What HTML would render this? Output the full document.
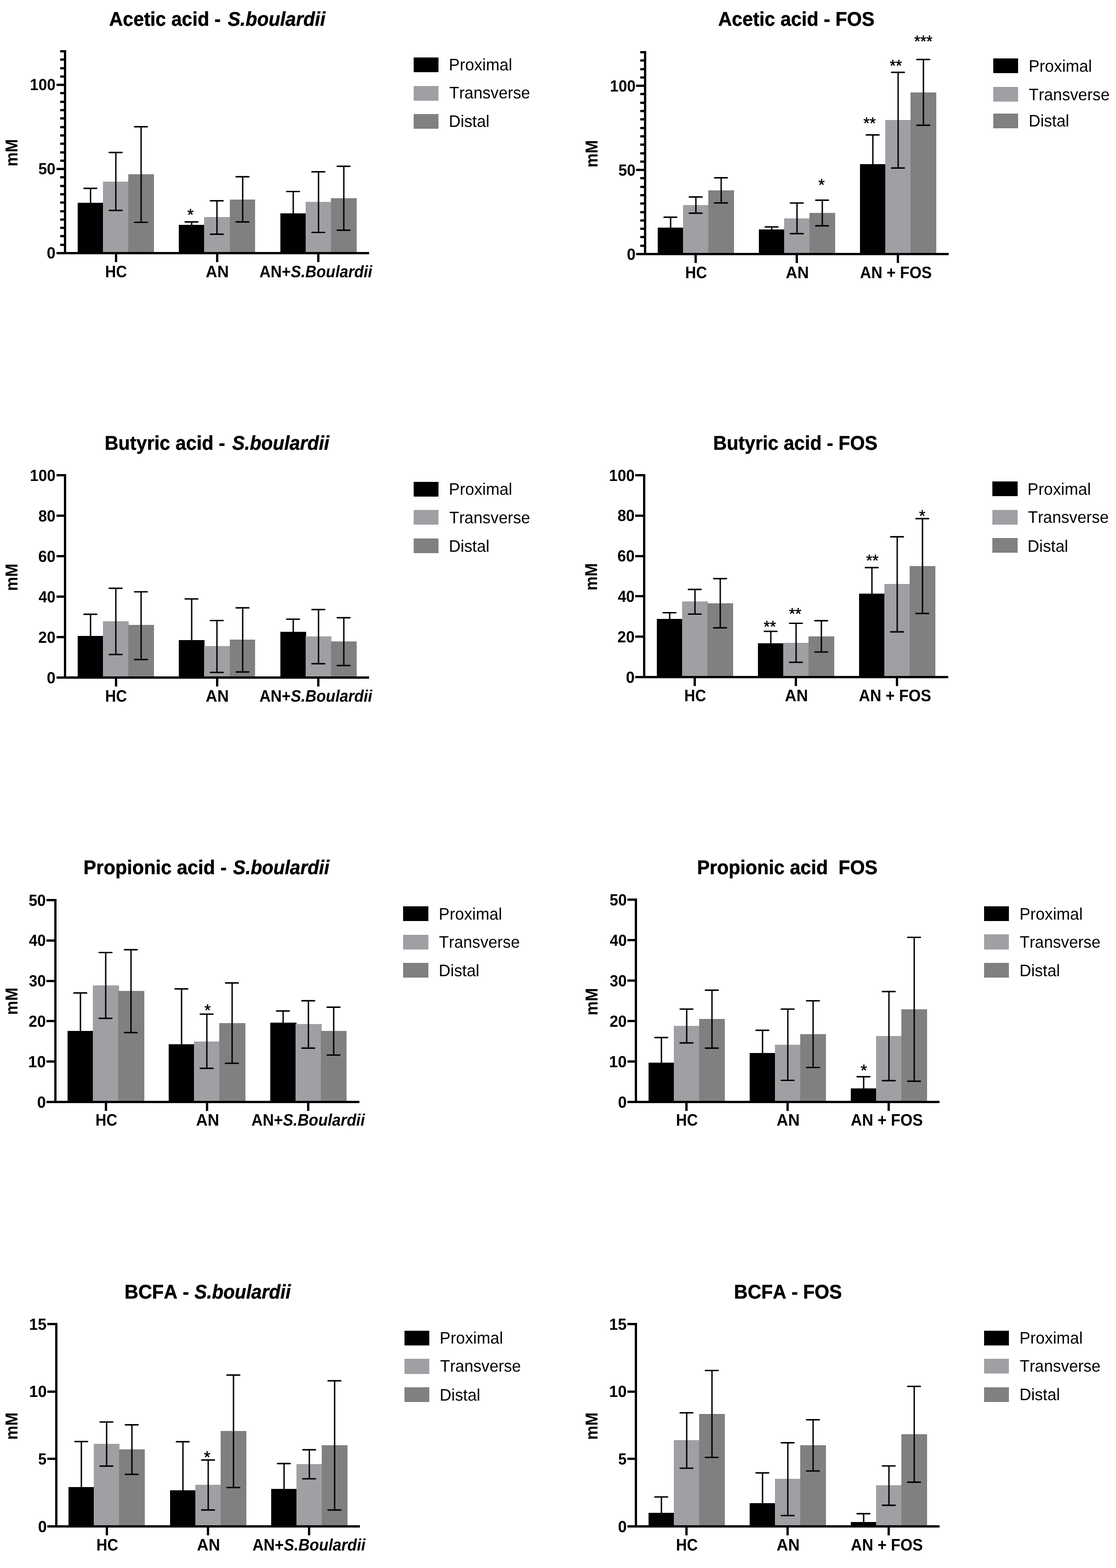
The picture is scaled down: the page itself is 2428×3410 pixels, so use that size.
<!DOCTYPE html>
<html lang="en">
<head>
<meta charset="utf-8">
<title>Short-chain fatty acids: S.boulardii and FOS</title>
<style>
html,body{margin:0;padding:0;background:#fff;}
body{width:2428px;height:3410px;}
svg{display:block;}
rect{shape-rendering:crispEdges;}
text{font-family:"Liberation Sans",Arial,Helvetica,sans-serif;fill:#000;white-space:pre;font-kerning:none;font-variant-ligatures:none;text-rendering:geometricPrecision;}
.b,.t{font-weight:bold;}
.t{stroke:#000;stroke-width:0.6px;stroke-linejoin:round;}
.s{stroke:#000;stroke-width:0.6px;stroke-linejoin:round;}
.i{font-style:italic;}
.e{stroke:#000;stroke-width:3;fill:none;}
.k{stroke:#000;stroke-width:3.2;stroke-linecap:round;fill:none;}
</style>
</head>
<body>
<svg width="2428" height="3410" viewBox="0 0 2428 3410" role="img" aria-label="Short-chain fatty acid bar charts">
<rect x="0" y="0" width="2428" height="3410" fill="#ffffff"/>
<g id="c1">
<rect x="169" y="441.1" width="55.6" height="107.9" fill="#000000"/>
<rect x="224" y="395" width="55.6" height="154" fill="#a0a0a4"/>
<rect x="279" y="379" width="56" height="170" fill="#808080"/>
<rect x="389" y="488.9" width="55.6" height="60.1" fill="#000000"/>
<rect x="444" y="472.1" width="56.6" height="76.9" fill="#a0a0a4"/>
<rect x="500" y="434" width="55" height="115" fill="#808080"/>
<rect x="610" y="464.1" width="55.6" height="84.9" fill="#000000"/>
<rect x="665" y="439.1" width="55.6" height="109.9" fill="#a0a0a4"/>
<rect x="720" y="430.9" width="56" height="118.1" fill="#808080"/>
<path d="M197 409.6V443.1" class="e"/>
<path d="M182.8 409.6H210.4" class="k"/>
<path d="M252 331.6V457.7" class="e"/>
<path d="M237.8 331.6H265.4" class="k"/>
<path d="M237.8 457.7H265.4" class="k"/>
<path d="M307 275.6V483.5" class="e"/>
<path d="M292.8 275.6H320.4" class="k"/>
<path d="M292.8 483.5H320.4" class="k"/>
<path d="M417 482.7V490.9" class="e"/>
<path d="M402.8 482.7H430.4" class="k"/>
<path d="M472 436.6V509.4" class="e"/>
<path d="M457.8 436.6H485.4" class="k"/>
<path d="M457.8 509.4H485.4" class="k"/>
<path d="M528 384.4V482.7" class="e"/>
<path d="M513.8 384.4H541.4" class="k"/>
<path d="M513.8 482.7H541.4" class="k"/>
<path d="M638 416.5V466.1" class="e"/>
<path d="M623.8 416.5H651.4" class="k"/>
<path d="M693 373.6V505.5" class="e"/>
<path d="M678.8 373.6H706.4" class="k"/>
<path d="M678.8 505.5H706.4" class="k"/>
<path d="M748 361.6V500.6" class="e"/>
<path d="M733.8 361.6H761.4" class="k"/>
<path d="M733.8 500.6H761.4" class="k"/>
<rect x="139" y="109" width="5" height="444"/>
<rect x="123" y="548" width="679.8" height="5"/>
<rect x="131" y="529.71" width="9" height="5"/>
<rect x="131" y="511.42" width="9" height="5"/>
<rect x="131" y="493.12" width="9" height="5"/>
<rect x="131" y="474.83" width="9" height="5"/>
<rect x="131" y="456.54" width="9" height="5"/>
<rect x="131" y="438.25" width="9" height="5"/>
<rect x="131" y="419.96" width="9" height="5"/>
<rect x="131" y="401.67" width="9" height="5"/>
<rect x="131" y="383.38" width="9" height="5"/>
<rect x="131" y="346.79" width="9" height="5"/>
<rect x="131" y="328.5" width="9" height="5"/>
<rect x="131" y="310.21" width="9" height="5"/>
<rect x="131" y="291.92" width="9" height="5"/>
<rect x="131" y="273.62" width="9" height="5"/>
<rect x="131" y="255.33" width="9" height="5"/>
<rect x="131" y="237.04" width="9" height="5"/>
<rect x="131" y="218.75" width="9" height="5"/>
<rect x="131" y="200.46" width="9" height="5"/>
<rect x="131" y="163.88" width="9" height="5"/>
<rect x="131" y="145.58" width="9" height="5"/>
<rect x="131" y="127.29" width="9" height="5"/>
<rect x="131" y="109" width="9" height="5"/>
<text class="b" style="font-size:35.2px" transform="translate(101.74 562) scale(0.9737 1)" xml:space="preserve">0</text>
<rect x="123" y="365.08" width="17" height="5"/>
<text class="b" style="font-size:35.2px" transform="translate(83.47 379.08) scale(0.9529 1)" xml:space="preserve">50</text>
<rect x="123" y="182.17" width="17" height="5"/>
<text class="b" style="font-size:35.2px" transform="translate(65.1 196.17) scale(0.9479 1)" xml:space="preserve">100</text>
<rect x="250" y="552" width="5" height="18"/>
<rect x="470" y="552" width="5" height="18"/>
<rect x="689.8" y="552" width="5" height="18"/>
<text class="b" style="font-size:36.3px" transform="translate(228.81 602.8) scale(0.9019 1)" xml:space="preserve">HC</text>
<text class="b" style="font-size:36.3px" transform="translate(447.53 602.8) scale(0.9576 1)" xml:space="preserve">AN</text>
<text class="b" style="font-size:36.3px" transform="translate(564.46 602.8) scale(0.9255 1)" xml:space="preserve">AN+<tspan class="i">S.Boulardii</tspan></text>
<text class="b" style="font-size:37.6px" transform="translate(38.1 361.98) rotate(-90) scale(0.9204 1)" xml:space="preserve">mM</text>
<text class="t" style="font-size:43px" transform="translate(237.57 55.9) scale(0.9580 1)" xml:space="preserve">Acetic acid -</text>
<text class="t i" style="font-size:43px" transform="translate(495.4 55.9) scale(0.9564 1)" xml:space="preserve">S.boulardii</text>
<rect x="900.1" y="124.9" width="54.2" height="32.2" fill="#000000"/>
<text class="r" style="font-size:36.3px" transform="translate(976.6 153.4) scale(0.9750 1)" xml:space="preserve">Proximal</text>
<rect x="900.1" y="186.9" width="54.2" height="32.2" fill="#a0a0a4"/>
<text class="r" style="font-size:36.3px" transform="translate(977.41 214.4) scale(0.9692 1)" xml:space="preserve">Transverse</text>
<rect x="900.1" y="248" width="54.2" height="32.2" fill="#808080"/>
<text class="r" style="font-size:36.3px" transform="translate(976.6 276.1) scale(0.9723 1)" xml:space="preserve">Distal</text>
<text class="r s" style="font-size:35.5px" transform="translate(407.58 478.8) scale(1.0009 1)" xml:space="preserve">*</text>
</g>
<g id="c2">
<rect x="1431" y="495" width="55.6" height="56" fill="#000000"/>
<rect x="1486" y="446.1" width="55.6" height="104.9" fill="#a0a0a4"/>
<rect x="1541" y="414" width="55.5" height="137" fill="#808080"/>
<rect x="1651" y="499.1" width="55.6" height="51.9" fill="#000000"/>
<rect x="1706" y="475" width="55.6" height="76" fill="#a0a0a4"/>
<rect x="1761" y="463.1" width="56" height="87.9" fill="#808080"/>
<rect x="1871" y="357.1" width="55.6" height="193.9" fill="#000000"/>
<rect x="1926" y="261" width="55.6" height="290" fill="#a0a0a4"/>
<rect x="1981" y="200.9" width="56" height="350.1" fill="#808080"/>
<path d="M1459 472.4V497" class="e"/>
<path d="M1444.8 472.4H1472.4" class="k"/>
<path d="M1514 428.4V463.6" class="e"/>
<path d="M1499.8 428.4H1527.4" class="k"/>
<path d="M1499.8 463.6H1527.4" class="k"/>
<path d="M1569 386.6V441.4" class="e"/>
<path d="M1554.8 386.6H1582.4" class="k"/>
<path d="M1554.8 441.4H1582.4" class="k"/>
<path d="M1679 493.5V501.1" class="e"/>
<path d="M1664.8 493.5H1692.4" class="k"/>
<path d="M1734 441.5V508.2" class="e"/>
<path d="M1719.8 441.5H1747.4" class="k"/>
<path d="M1719.8 508.2H1747.4" class="k"/>
<path d="M1789 435.3V491.2" class="e"/>
<path d="M1774.8 435.3H1802.4" class="k"/>
<path d="M1774.8 491.2H1802.4" class="k"/>
<path d="M1899 293.3V359.1" class="e"/>
<path d="M1884.8 293.3H1912.4" class="k"/>
<path d="M1954 157.3V365.3" class="e"/>
<path d="M1939.8 157.3H1967.4" class="k"/>
<path d="M1939.8 365.3H1967.4" class="k"/>
<path d="M2009 129.3V272.4" class="e"/>
<path d="M1994.8 129.3H2022.4" class="k"/>
<path d="M1994.8 272.4H2022.4" class="k"/>
<rect x="1401" y="111" width="5" height="444"/>
<rect x="1384" y="550" width="680" height="5"/>
<rect x="1393" y="531.71" width="9" height="5"/>
<rect x="1393" y="513.42" width="9" height="5"/>
<rect x="1393" y="495.12" width="9" height="5"/>
<rect x="1393" y="476.83" width="9" height="5"/>
<rect x="1393" y="458.54" width="9" height="5"/>
<rect x="1393" y="440.25" width="9" height="5"/>
<rect x="1393" y="421.96" width="9" height="5"/>
<rect x="1393" y="403.67" width="9" height="5"/>
<rect x="1393" y="385.38" width="9" height="5"/>
<rect x="1393" y="348.79" width="9" height="5"/>
<rect x="1393" y="330.5" width="9" height="5"/>
<rect x="1393" y="312.21" width="9" height="5"/>
<rect x="1393" y="293.92" width="9" height="5"/>
<rect x="1393" y="275.62" width="9" height="5"/>
<rect x="1393" y="257.33" width="9" height="5"/>
<rect x="1393" y="239.04" width="9" height="5"/>
<rect x="1393" y="220.75" width="9" height="5"/>
<rect x="1393" y="202.46" width="9" height="5"/>
<rect x="1393" y="165.88" width="9" height="5"/>
<rect x="1393" y="147.58" width="9" height="5"/>
<rect x="1393" y="129.29" width="9" height="5"/>
<rect x="1393" y="111" width="9" height="5"/>
<text class="b" style="font-size:35.2px" transform="translate(1363.74 564.6) scale(0.9737 1)" xml:space="preserve">0</text>
<rect x="1384" y="367.08" width="18" height="5"/>
<text class="b" style="font-size:35.2px" transform="translate(1345.47 381.68) scale(0.9529 1)" xml:space="preserve">50</text>
<rect x="1384" y="184.17" width="18" height="5"/>
<text class="b" style="font-size:35.2px" transform="translate(1327.1 198.77) scale(0.9479 1)" xml:space="preserve">100</text>
<rect x="1511.1" y="554" width="5" height="18"/>
<rect x="1731.1" y="554" width="5" height="18"/>
<rect x="1951.3" y="554" width="5" height="18"/>
<text class="b" style="font-size:36.3px" transform="translate(1490.81 604.8) scale(0.9019 1)" xml:space="preserve">HC</text>
<text class="b" style="font-size:36.3px" transform="translate(1709.53 604.8) scale(0.9576 1)" xml:space="preserve">AN</text>
<text class="b" style="font-size:36.3px" transform="translate(1871.06 604.8) scale(0.9278 1)" xml:space="preserve">AN + FOS</text>
<text class="b" style="font-size:37.6px" transform="translate(1300.1 364.28) rotate(-90) scale(0.9204 1)" xml:space="preserve">mM</text>
<text class="t" style="font-size:43px" transform="translate(1562.47 55.8) scale(0.9615 1)" xml:space="preserve">Acetic acid - FOS</text>
<rect x="2161" y="127.1" width="54.2" height="32.2" fill="#000000"/>
<text class="r" style="font-size:36.3px" transform="translate(2237.9 155.9) scale(0.9750 1)" xml:space="preserve">Proximal</text>
<rect x="2161" y="189" width="54.2" height="32.2" fill="#a0a0a4"/>
<text class="r" style="font-size:36.3px" transform="translate(2238.31 218) scale(0.9692 1)" xml:space="preserve">Transverse</text>
<rect x="2161" y="247" width="54.2" height="32.2" fill="#808080"/>
<text class="r" style="font-size:36.3px" transform="translate(2237.9 274.9) scale(0.9723 1)" xml:space="preserve">Distal</text>
<text class="r s" style="font-size:35.5px" transform="translate(1780.58 414) scale(1.0009 1)" xml:space="preserve">*</text>
<text class="r s" style="font-size:35.5px" transform="translate(1878.55 280.4) scale(0.9659 1)" xml:space="preserve">**</text>
<text class="r s" style="font-size:35.5px" transform="translate(1935.65 155.4) scale(0.9659 1)" xml:space="preserve">**</text>
<text class="r s" style="font-size:35.5px" transform="translate(1988.95 101.5) scale(0.9623 1)" xml:space="preserve">***</text>
</g>
<g id="c3">
<rect x="169" y="1382.9" width="55.6" height="89.1" fill="#000000"/>
<rect x="224" y="1351.2" width="55.6" height="120.8" fill="#a0a0a4"/>
<rect x="279" y="1359" width="56" height="113" fill="#808080"/>
<rect x="389" y="1392.2" width="55.6" height="79.8" fill="#000000"/>
<rect x="444" y="1405.1" width="56.6" height="66.9" fill="#a0a0a4"/>
<rect x="500" y="1391.1" width="55" height="80.9" fill="#808080"/>
<rect x="610" y="1374.1" width="55.6" height="97.9" fill="#000000"/>
<rect x="665" y="1384.2" width="55.6" height="87.8" fill="#a0a0a4"/>
<rect x="720" y="1395" width="56" height="77" fill="#808080"/>
<path d="M197 1335.9V1384.9" class="e"/>
<path d="M182.8 1335.9H210.4" class="k"/>
<path d="M252 1279.4V1423.4" class="e"/>
<path d="M237.8 1279.4H265.4" class="k"/>
<path d="M237.8 1423.4H265.4" class="k"/>
<path d="M307 1287V1434.4" class="e"/>
<path d="M292.8 1287H320.4" class="k"/>
<path d="M292.8 1434.4H320.4" class="k"/>
<path d="M417 1302.5V1394.2" class="e"/>
<path d="M402.8 1302.5H430.4" class="k"/>
<path d="M472 1349.5V1462.4" class="e"/>
<path d="M457.8 1349.5H485.4" class="k"/>
<path d="M457.8 1462.4H485.4" class="k"/>
<path d="M528 1321.9V1461.3" class="e"/>
<path d="M513.8 1321.9H541.4" class="k"/>
<path d="M513.8 1461.3H541.4" class="k"/>
<path d="M638 1346.5V1376.1" class="e"/>
<path d="M623.8 1346.5H651.4" class="k"/>
<path d="M693 1325.6V1443.4" class="e"/>
<path d="M678.8 1325.6H706.4" class="k"/>
<path d="M678.8 1443.4H706.4" class="k"/>
<path d="M748 1343.4V1447.3" class="e"/>
<path d="M733.8 1343.4H761.4" class="k"/>
<path d="M733.8 1447.3H761.4" class="k"/>
<rect x="139" y="1031" width="5" height="445"/>
<rect x="123" y="1471" width="679.8" height="5"/>
<text class="b" style="font-size:35.2px" transform="translate(101.74 1485.6) scale(0.9737 1)" xml:space="preserve">0</text>
<rect x="123" y="1383" width="17" height="5"/>
<text class="b" style="font-size:35.2px" transform="translate(83.33 1397.6) scale(0.9565 1)" xml:space="preserve">20</text>
<rect x="123" y="1295" width="17" height="5"/>
<text class="b" style="font-size:35.2px" transform="translate(84 1309.6) scale(0.9388 1)" xml:space="preserve">40</text>
<rect x="123" y="1207" width="17" height="5"/>
<text class="b" style="font-size:35.2px" transform="translate(83.26 1221.6) scale(0.9583 1)" xml:space="preserve">60</text>
<rect x="123" y="1119" width="17" height="5"/>
<text class="b" style="font-size:35.2px" transform="translate(83.43 1133.6) scale(0.9538 1)" xml:space="preserve">80</text>
<rect x="123" y="1031" width="17" height="5"/>
<text class="b" style="font-size:35.2px" transform="translate(65.1 1045.6) scale(0.9479 1)" xml:space="preserve">100</text>
<rect x="250" y="1475" width="5" height="18"/>
<rect x="470" y="1475" width="5" height="18"/>
<rect x="689.8" y="1475" width="5" height="18"/>
<text class="b" style="font-size:36.3px" transform="translate(228.81 1525.8) scale(0.9019 1)" xml:space="preserve">HC</text>
<text class="b" style="font-size:36.3px" transform="translate(447.53 1525.8) scale(0.9576 1)" xml:space="preserve">AN</text>
<text class="b" style="font-size:36.3px" transform="translate(564.46 1525.8) scale(0.9255 1)" xml:space="preserve">AN+<tspan class="i">S.Boulardii</tspan></text>
<text class="b" style="font-size:37.6px" transform="translate(38.1 1285.28) rotate(-90) scale(0.9204 1)" xml:space="preserve">mM</text>
<text class="t" style="font-size:43px" transform="translate(227.73 978) scale(0.9619 1)" xml:space="preserve">Butyric acid -</text>
<text class="t i" style="font-size:43px" transform="translate(504.9 978) scale(0.9519 1)" xml:space="preserve">S.boulardii</text>
<rect x="900.1" y="1048.1" width="54.2" height="32.2" fill="#000000"/>
<text class="r" style="font-size:36.3px" transform="translate(976.6 1076.2) scale(0.9750 1)" xml:space="preserve">Proximal</text>
<rect x="900.1" y="1109.2" width="54.2" height="32.2" fill="#a0a0a4"/>
<text class="r" style="font-size:36.3px" transform="translate(977.41 1137.7) scale(0.9692 1)" xml:space="preserve">Transverse</text>
<rect x="900.1" y="1171.2" width="54.2" height="32.2" fill="#808080"/>
<text class="r" style="font-size:36.3px" transform="translate(976.6 1199.8) scale(0.9723 1)" xml:space="preserve">Distal</text>
</g>
<g id="c4">
<rect x="1429" y="1346" width="55.6" height="125" fill="#000000"/>
<rect x="1484" y="1308.1" width="55.6" height="162.9" fill="#a0a0a4"/>
<rect x="1539" y="1312" width="56" height="159" fill="#808080"/>
<rect x="1649" y="1399.1" width="55.6" height="71.9" fill="#000000"/>
<rect x="1704" y="1398" width="55.6" height="73" fill="#a0a0a4"/>
<rect x="1759" y="1384" width="56" height="87" fill="#808080"/>
<rect x="1869" y="1291.1" width="55.6" height="179.9" fill="#000000"/>
<rect x="1924" y="1270.2" width="55.6" height="200.8" fill="#a0a0a4"/>
<rect x="1979" y="1231.2" width="56" height="239.8" fill="#808080"/>
<path d="M1457 1332.5V1348" class="e"/>
<path d="M1442.8 1332.5H1470.4" class="k"/>
<path d="M1512 1281.8V1335.5" class="e"/>
<path d="M1497.8 1281.8H1525.4" class="k"/>
<path d="M1497.8 1335.5H1525.4" class="k"/>
<path d="M1567 1258.3V1365.4" class="e"/>
<path d="M1552.8 1258.3H1580.4" class="k"/>
<path d="M1552.8 1365.4H1580.4" class="k"/>
<path d="M1677 1373V1401.1" class="e"/>
<path d="M1662.8 1373H1690.4" class="k"/>
<path d="M1732 1355.5V1440.4" class="e"/>
<path d="M1717.8 1355.5H1745.4" class="k"/>
<path d="M1717.8 1440.4H1745.4" class="k"/>
<path d="M1787 1349.9V1418" class="e"/>
<path d="M1772.8 1349.9H1800.4" class="k"/>
<path d="M1772.8 1418H1800.4" class="k"/>
<path d="M1897 1234.4V1293.1" class="e"/>
<path d="M1882.8 1234.4H1910.4" class="k"/>
<path d="M1952 1167.4V1374.1" class="e"/>
<path d="M1937.8 1167.4H1965.4" class="k"/>
<path d="M1937.8 1374.1H1965.4" class="k"/>
<path d="M2007 1127.9V1334.2" class="e"/>
<path d="M1992.8 1127.9H2020.4" class="k"/>
<path d="M1992.8 1334.2H2020.4" class="k"/>
<rect x="1399" y="1031" width="5" height="444"/>
<rect x="1382" y="1470" width="680.8" height="5"/>
<text class="b" style="font-size:35.2px" transform="translate(1361.74 1484.6) scale(0.9737 1)" xml:space="preserve">0</text>
<rect x="1382" y="1382.2" width="18" height="5"/>
<text class="b" style="font-size:35.2px" transform="translate(1343.33 1396.8) scale(0.9565 1)" xml:space="preserve">20</text>
<rect x="1382" y="1294.4" width="18" height="5"/>
<text class="b" style="font-size:35.2px" transform="translate(1344 1309) scale(0.9388 1)" xml:space="preserve">40</text>
<rect x="1382" y="1206.6" width="18" height="5"/>
<text class="b" style="font-size:35.2px" transform="translate(1343.26 1221.2) scale(0.9583 1)" xml:space="preserve">60</text>
<rect x="1382" y="1118.8" width="18" height="5"/>
<text class="b" style="font-size:35.2px" transform="translate(1343.43 1133.4) scale(0.9538 1)" xml:space="preserve">80</text>
<rect x="1382" y="1031" width="18" height="5"/>
<text class="b" style="font-size:35.2px" transform="translate(1325.1 1045.6) scale(0.9479 1)" xml:space="preserve">100</text>
<rect x="1509.1" y="1474" width="5" height="18"/>
<rect x="1729.1" y="1474" width="5" height="18"/>
<rect x="1949.3" y="1474" width="5" height="18"/>
<text class="b" style="font-size:36.3px" transform="translate(1488.81 1524.8) scale(0.9019 1)" xml:space="preserve">HC</text>
<text class="b" style="font-size:36.3px" transform="translate(1707.53 1524.8) scale(0.9576 1)" xml:space="preserve">AN</text>
<text class="b" style="font-size:36.3px" transform="translate(1868.46 1524.8) scale(0.9344 1)" xml:space="preserve">AN + FOS</text>
<text class="b" style="font-size:37.6px" transform="translate(1299.3 1284.28) rotate(-90) scale(0.9204 1)" xml:space="preserve">mM</text>
<text class="t" style="font-size:43px" transform="translate(1551.54 978) scale(0.9593 1)" xml:space="preserve">Butyric acid - FOS</text>
<rect x="2159.3" y="1047.1" width="54.2" height="32.2" fill="#000000"/>
<text class="r" style="font-size:36.3px" transform="translate(2235.6 1075.9) scale(0.9750 1)" xml:space="preserve">Proximal</text>
<rect x="2159.3" y="1108.9" width="54.2" height="32.2" fill="#a0a0a4"/>
<text class="r" style="font-size:36.3px" transform="translate(2236.41 1137) scale(0.9692 1)" xml:space="preserve">Transverse</text>
<rect x="2159.3" y="1170" width="54.2" height="32.2" fill="#808080"/>
<text class="r" style="font-size:36.3px" transform="translate(2235.6 1199.6) scale(0.9723 1)" xml:space="preserve">Distal</text>
<text class="r s" style="font-size:35.5px" transform="translate(1661.55 1375.3) scale(0.9659 1)" xml:space="preserve">**</text>
<text class="r s" style="font-size:35.5px" transform="translate(1716.65 1346.9) scale(0.9659 1)" xml:space="preserve">**</text>
<text class="r s" style="font-size:35.5px" transform="translate(1884.55 1231.4) scale(0.9659 1)" xml:space="preserve">**</text>
<text class="r s" style="font-size:35.5px" transform="translate(1999.48 1134.4) scale(1.0009 1)" xml:space="preserve">*</text>
</g>
<g id="c5">
<rect x="147" y="2242.2" width="56.9" height="152.8" fill="#000000"/>
<rect x="202" y="2143.2" width="56.9" height="251.8" fill="#a0a0a4"/>
<rect x="257" y="2155.1" width="57" height="239.9" fill="#808080"/>
<rect x="367" y="2271" width="56.9" height="124" fill="#000000"/>
<rect x="422" y="2265" width="56.9" height="130" fill="#a0a0a4"/>
<rect x="477" y="2224.9" width="57" height="170.1" fill="#808080"/>
<rect x="588" y="2224.3" width="56.9" height="170.7" fill="#000000"/>
<rect x="643" y="2227.1" width="56.9" height="167.9" fill="#a0a0a4"/>
<rect x="698" y="2242.2" width="56" height="152.8" fill="#808080"/>
<path d="M175 2159.4V2244.2" class="e"/>
<path d="M160.8 2159.4H188.4" class="k"/>
<path d="M230 2071.5V2214.6" class="e"/>
<path d="M215.8 2071.5H243.4" class="k"/>
<path d="M215.8 2214.6H243.4" class="k"/>
<path d="M285 2065.4V2245.6" class="e"/>
<path d="M270.8 2065.4H298.4" class="k"/>
<path d="M270.8 2245.6H298.4" class="k"/>
<path d="M395 2150.6V2273" class="e"/>
<path d="M380.8 2150.6H408.4" class="k"/>
<path d="M450 2205.5V2323.4" class="e"/>
<path d="M435.8 2205.5H463.4" class="k"/>
<path d="M435.8 2323.4H463.4" class="k"/>
<path d="M505 2137.6V2312.4" class="e"/>
<path d="M490.8 2137.6H518.4" class="k"/>
<path d="M490.8 2312.4H518.4" class="k"/>
<path d="M616 2198.6V2226.3" class="e"/>
<path d="M601.8 2198.6H629.4" class="k"/>
<path d="M671 2176.4V2279.4" class="e"/>
<path d="M656.8 2176.4H684.4" class="k"/>
<path d="M656.8 2279.4H684.4" class="k"/>
<path d="M726 2190.4V2294.5" class="e"/>
<path d="M711.8 2190.4H739.4" class="k"/>
<path d="M711.8 2294.5H739.4" class="k"/>
<rect x="118" y="1955" width="5" height="444"/>
<rect x="101" y="2394" width="681" height="5"/>
<text class="b" style="font-size:35.2px" transform="translate(80.74 2408.6) scale(0.9737 1)" xml:space="preserve">0</text>
<rect x="101" y="2306.2" width="18" height="5"/>
<text class="b" style="font-size:35.2px" transform="translate(61.32 2320.8) scale(0.9833 1)" xml:space="preserve">10</text>
<rect x="101" y="2218.4" width="18" height="5"/>
<text class="b" style="font-size:35.2px" transform="translate(62.33 2233) scale(0.9565 1)" xml:space="preserve">20</text>
<rect x="101" y="2130.6" width="18" height="5"/>
<text class="b" style="font-size:35.2px" transform="translate(62.74 2145.2) scale(0.9458 1)" xml:space="preserve">30</text>
<rect x="101" y="2042.8" width="18" height="5"/>
<text class="b" style="font-size:35.2px" transform="translate(63 2057.4) scale(0.9388 1)" xml:space="preserve">40</text>
<rect x="101" y="1955" width="18" height="5"/>
<text class="b" style="font-size:35.2px" transform="translate(62.47 1969.6) scale(0.9529 1)" xml:space="preserve">50</text>
<rect x="228" y="2398" width="5" height="18"/>
<rect x="448.2" y="2398" width="5" height="18"/>
<rect x="667.7" y="2398" width="5" height="18"/>
<text class="b" style="font-size:36.3px" transform="translate(207.81 2447.8) scale(0.9019 1)" xml:space="preserve">HC</text>
<text class="b" style="font-size:36.3px" transform="translate(426.53 2447.8) scale(0.9576 1)" xml:space="preserve">AN</text>
<text class="b" style="font-size:36.3px" transform="translate(547.06 2447.8) scale(0.9304 1)" xml:space="preserve">AN+<tspan class="i">S.Boulardii</tspan></text>
<text class="b" style="font-size:37.6px" transform="translate(38.1 2207.28) rotate(-90) scale(0.9204 1)" xml:space="preserve">mM</text>
<text class="t" style="font-size:43px" transform="translate(181.62 1900.6) scale(0.9665 1)" xml:space="preserve">Propionic acid -</text>
<text class="t i" style="font-size:43px" transform="translate(507.11 1900.6) scale(0.9420 1)" xml:space="preserve">S.boulardii</text>
<rect x="877.4" y="1971" width="54.2" height="32.2" fill="#000000"/>
<text class="r" style="font-size:36.3px" transform="translate(954.6 1999.6) scale(0.9750 1)" xml:space="preserve">Proximal</text>
<rect x="877.4" y="2033.1" width="54.2" height="32.2" fill="#a0a0a4"/>
<text class="r" style="font-size:36.3px" transform="translate(955.01 2060.7) scale(0.9692 1)" xml:space="preserve">Transverse</text>
<rect x="877.4" y="2094.2" width="54.2" height="32.2" fill="#808080"/>
<text class="r" style="font-size:36.3px" transform="translate(954.6 2123) scale(0.9723 1)" xml:space="preserve">Distal</text>
<text class="r s" style="font-size:35.5px" transform="translate(444.68 2209.2) scale(1.0009 1)" xml:space="preserve">*</text>
</g>
<g id="c6">
<rect x="1411" y="2311.1" width="55.6" height="83.9" fill="#000000"/>
<rect x="1466" y="2231" width="55.6" height="164" fill="#a0a0a4"/>
<rect x="1521" y="2216.1" width="55.5" height="178.9" fill="#808080"/>
<rect x="1631" y="2290.2" width="55.6" height="104.8" fill="#000000"/>
<rect x="1686" y="2272.1" width="55.6" height="122.9" fill="#a0a0a4"/>
<rect x="1741" y="2249.1" width="56" height="145.9" fill="#808080"/>
<rect x="1851" y="2367.2" width="55.6" height="27.8" fill="#000000"/>
<rect x="1906" y="2253" width="55.6" height="142" fill="#a0a0a4"/>
<rect x="1961" y="2195" width="56" height="200" fill="#808080"/>
<path d="M1439 2256.4V2313.1" class="e"/>
<path d="M1424.8 2256.4H1452.4" class="k"/>
<path d="M1494 2194.5V2268.2" class="e"/>
<path d="M1479.8 2194.5H1507.4" class="k"/>
<path d="M1479.8 2268.2H1507.4" class="k"/>
<path d="M1549 2153.4V2279.4" class="e"/>
<path d="M1534.8 2153.4H1562.4" class="k"/>
<path d="M1534.8 2279.4H1562.4" class="k"/>
<path d="M1659 2240.6V2292.2" class="e"/>
<path d="M1644.8 2240.6H1672.4" class="k"/>
<path d="M1714 2194.5V2349.5" class="e"/>
<path d="M1699.8 2194.5H1727.4" class="k"/>
<path d="M1699.8 2349.5H1727.4" class="k"/>
<path d="M1769 2176.5V2321.5" class="e"/>
<path d="M1754.8 2176.5H1782.4" class="k"/>
<path d="M1754.8 2321.5H1782.4" class="k"/>
<path d="M1879 2341.6V2369.2" class="e"/>
<path d="M1864.8 2341.6H1892.4" class="k"/>
<path d="M1934 2156.4V2350.2" class="e"/>
<path d="M1919.8 2156.4H1947.4" class="k"/>
<path d="M1919.8 2350.2H1947.4" class="k"/>
<path d="M1989 2038.5V2351.3" class="e"/>
<path d="M1974.8 2038.5H2002.4" class="k"/>
<path d="M1974.8 2351.3H2002.4" class="k"/>
<rect x="1381" y="1954" width="5" height="445"/>
<rect x="1365" y="2394" width="679" height="5"/>
<text class="b" style="font-size:35.2px" transform="translate(1344.54 2408.6) scale(0.9737 1)" xml:space="preserve">0</text>
<rect x="1365" y="2306" width="17" height="5"/>
<text class="b" style="font-size:35.2px" transform="translate(1325.12 2320.6) scale(0.9833 1)" xml:space="preserve">10</text>
<rect x="1365" y="2218" width="17" height="5"/>
<text class="b" style="font-size:35.2px" transform="translate(1326.13 2232.6) scale(0.9565 1)" xml:space="preserve">20</text>
<rect x="1365" y="2130" width="17" height="5"/>
<text class="b" style="font-size:35.2px" transform="translate(1326.54 2144.6) scale(0.9458 1)" xml:space="preserve">30</text>
<rect x="1365" y="2042" width="17" height="5"/>
<text class="b" style="font-size:35.2px" transform="translate(1326.8 2056.6) scale(0.9388 1)" xml:space="preserve">40</text>
<rect x="1365" y="1954" width="17" height="5"/>
<text class="b" style="font-size:35.2px" transform="translate(1326.27 1968.6) scale(0.9529 1)" xml:space="preserve">50</text>
<rect x="1491.1" y="2398" width="5" height="18"/>
<rect x="1711.1" y="2398" width="5" height="18"/>
<rect x="1931.3" y="2398" width="5" height="18"/>
<text class="b" style="font-size:36.3px" transform="translate(1470.81 2447.8) scale(0.9019 1)" xml:space="preserve">HC</text>
<text class="b" style="font-size:36.3px" transform="translate(1689.53 2447.8) scale(0.9576 1)" xml:space="preserve">AN</text>
<text class="b" style="font-size:36.3px" transform="translate(1851.06 2447.8) scale(0.9308 1)" xml:space="preserve">AN + FOS</text>
<text class="b" style="font-size:37.6px" transform="translate(1300 2208.18) rotate(-90) scale(0.9204 1)" xml:space="preserve">mM</text>
<text class="t" style="font-size:43px" transform="translate(1516.44 1900.6) scale(0.9611 1)" xml:space="preserve">Propionic acid  FOS</text>
<rect x="2141" y="1971.1" width="54.2" height="32.2" fill="#000000"/>
<text class="r" style="font-size:36.3px" transform="translate(2217.9 2000) scale(0.9750 1)" xml:space="preserve">Proximal</text>
<rect x="2141" y="2032.4" width="54.2" height="32.2" fill="#a0a0a4"/>
<text class="r" style="font-size:36.3px" transform="translate(2218.41 2061.2) scale(0.9692 1)" xml:space="preserve">Transverse</text>
<rect x="2141" y="2093.9" width="54.2" height="32.2" fill="#808080"/>
<text class="r" style="font-size:36.3px" transform="translate(2217.9 2122.8) scale(0.9723 1)" xml:space="preserve">Distal</text>
<text class="r s" style="font-size:35.5px" transform="translate(1872.48 2340.2) scale(1.0009 1)" xml:space="preserve">*</text>
</g>
<g id="c7">
<rect x="149" y="3234.1" width="56.1" height="83.9" fill="#000000"/>
<rect x="204" y="3140.2" width="56.1" height="177.8" fill="#a0a0a4"/>
<rect x="259" y="3152" width="56" height="166" fill="#808080"/>
<rect x="370" y="3241" width="56.1" height="77" fill="#000000"/>
<rect x="425" y="3229.2" width="56.1" height="88.8" fill="#a0a0a4"/>
<rect x="480" y="3112.2" width="56" height="205.8" fill="#808080"/>
<rect x="590" y="3238.2" width="56.1" height="79.8" fill="#000000"/>
<rect x="645" y="3184.1" width="56.1" height="133.9" fill="#a0a0a4"/>
<rect x="700" y="3143.2" width="56" height="174.8" fill="#808080"/>
<path d="M177 3135V3236.1" class="e"/>
<path d="M162.8 3135H190.4" class="k"/>
<path d="M232 3092.5V3188.4" class="e"/>
<path d="M217.8 3092.5H245.4" class="k"/>
<path d="M217.8 3188.4H245.4" class="k"/>
<path d="M287 3098.6V3206.3" class="e"/>
<path d="M272.8 3098.6H300.4" class="k"/>
<path d="M272.8 3206.3H300.4" class="k"/>
<path d="M398 3135.4V3243" class="e"/>
<path d="M383.8 3135.4H411.4" class="k"/>
<path d="M453 3175.1V3283.9" class="e"/>
<path d="M438.8 3175.1H466.4" class="k"/>
<path d="M438.8 3283.9H466.4" class="k"/>
<path d="M508 2990.4V3235" class="e"/>
<path d="M493.8 2990.4H521.4" class="k"/>
<path d="M493.8 3235H521.4" class="k"/>
<path d="M618 3182.8V3240.2" class="e"/>
<path d="M603.8 3182.8H631.4" class="k"/>
<path d="M673 3152.9V3216" class="e"/>
<path d="M658.8 3152.9H686.4" class="k"/>
<path d="M658.8 3216H686.4" class="k"/>
<path d="M728 3002.9V3283.9" class="e"/>
<path d="M713.8 3002.9H741.4" class="k"/>
<path d="M713.8 3283.9H741.4" class="k"/>
<rect x="120" y="2877" width="5" height="445"/>
<rect x="103" y="3317" width="680" height="5"/>
<text class="b" style="font-size:35.2px" transform="translate(82.74 3331.6) scale(0.9737 1)" xml:space="preserve">0</text>
<rect x="103" y="3170.33" width="18" height="5"/>
<text class="b" style="font-size:35.2px" transform="translate(83.09 3184.93) scale(0.9307 1)" xml:space="preserve">5</text>
<rect x="103" y="3023.67" width="18" height="5"/>
<text class="b" style="font-size:35.2px" transform="translate(63.32 3038.27) scale(0.9833 1)" xml:space="preserve">10</text>
<rect x="103" y="2877" width="18" height="5"/>
<text class="b" style="font-size:35.2px" transform="translate(63.35 2891.6) scale(0.9706 1)" xml:space="preserve">15</text>
<rect x="230" y="3321" width="5" height="18"/>
<rect x="449.9" y="3321" width="5" height="18"/>
<rect x="669.7" y="3321" width="5" height="18"/>
<text class="b" style="font-size:36.3px" transform="translate(209.81 3371.8) scale(0.9019 1)" xml:space="preserve">HC</text>
<text class="b" style="font-size:36.3px" transform="translate(428.53 3371.8) scale(0.9576 1)" xml:space="preserve">AN</text>
<text class="b" style="font-size:36.3px" transform="translate(549.16 3371.8) scale(0.9274 1)" xml:space="preserve">AN+<tspan class="i">S.Boulardii</tspan></text>
<text class="b" style="font-size:37.6px" transform="translate(38.1 3131.28) rotate(-90) scale(0.9204 1)" xml:space="preserve">mM</text>
<text class="t" style="font-size:43px" transform="translate(271.03 2823.5) scale(0.9632 1)" xml:space="preserve">BCFA -</text>
<text class="t i" style="font-size:43px" transform="translate(422.9 2823.5) scale(0.9434 1)" xml:space="preserve">S.boulardii</text>
<rect x="880.1" y="2894.2" width="54.2" height="32.2" fill="#000000"/>
<text class="r" style="font-size:36.3px" transform="translate(956.6 2922.1) scale(0.9750 1)" xml:space="preserve">Proximal</text>
<rect x="880.1" y="2955.3" width="54.2" height="32.2" fill="#a0a0a4"/>
<text class="r" style="font-size:36.3px" transform="translate(957.41 2983.2) scale(0.9692 1)" xml:space="preserve">Transverse</text>
<rect x="880.1" y="3017.1" width="54.2" height="32.2" fill="#808080"/>
<text class="r" style="font-size:36.3px" transform="translate(956.6 3045.5) scale(0.9723 1)" xml:space="preserve">Distal</text>
<text class="r s" style="font-size:35.5px" transform="translate(443.68 3181.1) scale(1.0009 1)" xml:space="preserve">*</text>
</g>
<g id="c8">
<rect x="1411" y="3290" width="55.6" height="28" fill="#000000"/>
<rect x="1466" y="3132" width="55.6" height="186" fill="#a0a0a4"/>
<rect x="1521" y="3075.1" width="55.5" height="242.9" fill="#808080"/>
<rect x="1631" y="3269.1" width="55.6" height="48.9" fill="#000000"/>
<rect x="1686" y="3216" width="55.6" height="102" fill="#a0a0a4"/>
<rect x="1741" y="3143.2" width="56" height="174.8" fill="#808080"/>
<rect x="1851" y="3310.2" width="55.6" height="7.8" fill="#000000"/>
<rect x="1906" y="3230" width="55.6" height="88" fill="#a0a0a4"/>
<rect x="1961" y="3119.1" width="56" height="198.9" fill="#808080"/>
<path d="M1439 3255.5V3292" class="e"/>
<path d="M1424.8 3255.5H1452.4" class="k"/>
<path d="M1494 3072.5V3193" class="e"/>
<path d="M1479.8 3072.5H1507.4" class="k"/>
<path d="M1479.8 3193H1507.4" class="k"/>
<path d="M1549 2980.5V3169.5" class="e"/>
<path d="M1534.8 2980.5H1562.4" class="k"/>
<path d="M1534.8 3169.5H1562.4" class="k"/>
<path d="M1659 3203.1V3271.1" class="e"/>
<path d="M1644.8 3203.1H1672.4" class="k"/>
<path d="M1714 3137.6V3296" class="e"/>
<path d="M1699.8 3137.6H1727.4" class="k"/>
<path d="M1699.8 3296H1727.4" class="k"/>
<path d="M1769 3087.6V3199" class="e"/>
<path d="M1754.8 3087.6H1782.4" class="k"/>
<path d="M1754.8 3199H1782.4" class="k"/>
<path d="M1879 3291.9V3312.2" class="e"/>
<path d="M1864.8 3291.9H1892.4" class="k"/>
<path d="M1934 3188V3273.6" class="e"/>
<path d="M1919.8 3188H1947.4" class="k"/>
<path d="M1919.8 3273.6H1947.4" class="k"/>
<path d="M1989 3015V3223.4" class="e"/>
<path d="M1974.8 3015H2002.4" class="k"/>
<path d="M1974.8 3223.4H2002.4" class="k"/>
<rect x="1381" y="2877" width="5" height="445"/>
<rect x="1365" y="3317" width="679" height="5"/>
<text class="b" style="font-size:35.2px" transform="translate(1344.54 3331.6) scale(0.9737 1)" xml:space="preserve">0</text>
<rect x="1365" y="3170.33" width="17" height="5"/>
<text class="b" style="font-size:35.2px" transform="translate(1344.89 3184.93) scale(0.9307 1)" xml:space="preserve">5</text>
<rect x="1365" y="3023.67" width="17" height="5"/>
<text class="b" style="font-size:35.2px" transform="translate(1325.12 3038.27) scale(0.9833 1)" xml:space="preserve">10</text>
<rect x="1365" y="2877" width="17" height="5"/>
<text class="b" style="font-size:35.2px" transform="translate(1325.15 2891.6) scale(0.9706 1)" xml:space="preserve">15</text>
<rect x="1491.1" y="3321" width="5" height="18"/>
<rect x="1711.1" y="3321" width="5" height="18"/>
<rect x="1931.3" y="3321" width="5" height="18"/>
<text class="b" style="font-size:36.3px" transform="translate(1470.81 3371.8) scale(0.9019 1)" xml:space="preserve">HC</text>
<text class="b" style="font-size:36.3px" transform="translate(1689.53 3371.8) scale(0.9576 1)" xml:space="preserve">AN</text>
<text class="b" style="font-size:36.3px" transform="translate(1851.06 3371.8) scale(0.9308 1)" xml:space="preserve">AN + FOS</text>
<text class="b" style="font-size:37.6px" transform="translate(1300.1 3131.28) rotate(-90) scale(0.9204 1)" xml:space="preserve">mM</text>
<text class="t" style="font-size:43px" transform="translate(1597.06 2823.5) scale(0.9529 1)" xml:space="preserve">BCFA - FOS</text>
<rect x="2141" y="2894.1" width="54.2" height="32.2" fill="#000000"/>
<text class="r" style="font-size:36.3px" transform="translate(2217.9 2922.2) scale(0.9750 1)" xml:space="preserve">Proximal</text>
<rect x="2141" y="2955.1" width="54.2" height="32.2" fill="#a0a0a4"/>
<text class="r" style="font-size:36.3px" transform="translate(2218.41 2983.2) scale(0.9692 1)" xml:space="preserve">Transverse</text>
<rect x="2141" y="3016.9" width="54.2" height="32.2" fill="#808080"/>
<text class="r" style="font-size:36.3px" transform="translate(2217.9 3045.4) scale(0.9723 1)" xml:space="preserve">Distal</text>
</g>
</svg>
</body>
</html>
